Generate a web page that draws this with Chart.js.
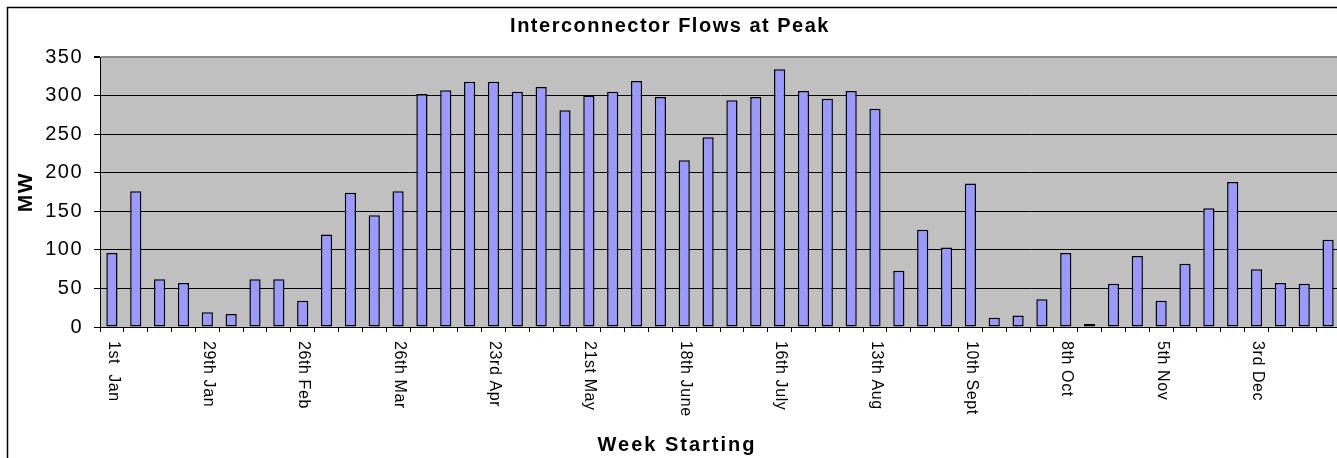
<!DOCTYPE html>
<html>
<head>
<meta charset="utf-8">
<title>Interconnector Flows at Peak</title>
<script src="https://cdn.jsdelivr.net/npm/chart.js@4.4.1/dist/chart.umd.min.js"></script>
<style>
	html, body { margin: 0; padding: 0; background: #fff; overflow: hidden; }
	#flows-wrap { width: 1396px; height: 458px; }
</style>
</head>
<body>
<div id="flows-wrap"><canvas id="flows-chart" width="1396" height="458"></canvas></div>
<script>
	'use strict';

	// Week starting dates (only every 4th one is written under the axis)
	var weekLabels = [
		'1st  Jan', '8th Jan', '15th Jan', '22nd Jan', '29th Jan',
		'5th Feb', '12th Feb', '19th Feb', '26th Feb',
		'5th Mar', '12th Mar', '19th Mar', '26th Mar',
		'2nd Apr', '9th Apr', '16th Apr', '23rd Apr', '30th Apr',
		'7th May', '14th May', '21st May', '28th May',
		'4th June', '11th June', '18th June', '25th June',
		'2nd July', '9th July', '16th July', '23rd July', '30th July',
		'6th Aug', '13th Aug', '20th Aug', '27th Aug',
		'3rd Sept', '10th Sept', '17th Sept', '24th Sept',
		'1st Oct', '8th Oct', '15th Oct', '22nd Oct', '29th Oct',
		'5th Nov', '12th Nov', '19th Nov', '26th Nov',
		'3rd Dec', '10th Dec', '17th Dec', '24th Dec'
	];

	// Interconnector flow at peak, MW
	var peakFlows = [
		96, 176, 62, 57, 19, 17, 62, 62, 34, 120,
		174, 145, 176, 302, 307, 318, 318, 305, 311, 281,
		300, 305, 319, 298, 216, 246, 294, 298, 334, 306,
		296, 306, 283, 73, 126, 103, 186, 12, 15, 36,
		96, 4, 56, 92, 34, 82, 154, 188, 75, 57,
		56, 113
	];

	var yTickValues = [0, 50, 100, 150, 200, 250, 300, 350];
	var labelEvery = 4;

	var chartTitle = 'Interconnector Flows at Peak';
	var xAxisTitle = 'Week Starting';
	var yAxisTitle = 'MW';

	var fontFamily = '"Liberation Sans", Arial, Helvetica, sans-serif';

	Chart.defaults.font.family = fontFamily;
	Chart.defaults.color = '#000';

	// White page, excel style frame and grey plot area
	var excelBackground = {
		id: 'excelBackground',
		beforeDraw: function(chart) {
			var ctx = chart.ctx;
			var area = chart.chartArea;

			ctx.save();
			ctx.fillStyle = '#fff';
			ctx.fillRect(0, 0, chart.width, chart.height);

			ctx.fillStyle = '#c0c0c0';
			ctx.fillRect(area.left, area.top, area.right - area.left, area.bottom - area.top);

			ctx.strokeStyle = '#000';
			ctx.lineWidth = 1.5;
			ctx.beginPath();
			ctx.moveTo(7.5, chart.height);
			ctx.lineTo(7.5, 7.5);
			ctx.lineTo(chart.width, 7.5);
			ctx.stroke();
			ctx.restore();

			// excel text looks a bit wider than plain arial
			ctx.letterSpacing = '1.5px';
		}
	};

	// Rotated week labels (read top to bottom) and the x axis title
	var weekAxisText = {
		id: 'weekAxisText',
		afterDraw: function(chart) {
			var ctx = chart.ctx;
			var xScale = chart.scales.x;

			ctx.save();
			ctx.fillStyle = '#000';
			ctx.font = '16px ' + fontFamily;
			ctx.letterSpacing = '0.6px';
			ctx.textAlign = 'left';
			ctx.textBaseline = 'middle';

			for (var i = 0; i < weekLabels.length; i += labelEvery) {
				var x = xScale.getPixelForValue(i);
				ctx.save();
				ctx.translate(x + 1, xScale.top + 14);
				ctx.rotate(Math.PI / 2);
				ctx.fillText(weekLabels[i], 0, 0);
				ctx.restore();
			}

			ctx.font = 'bold 20px ' + fontFamily;
			ctx.letterSpacing = '2px';
			ctx.textAlign = 'center';
			ctx.fillText(xAxisTitle, 677, 445);
			ctx.restore();
		}
	};

	var ctx = document.getElementById('flows-chart');

	var flowsChart = new Chart(ctx, {
		type: 'bar',
		data: {
			labels: weekLabels,
			datasets: [{
				label: chartTitle,
				data: peakFlows,
				backgroundColor: '#9999ff',
				borderColor: '#000',
				borderWidth: 1.5,
				borderSkipped: false,
				barPercentage: 0.47,
				categoryPercentage: 1
			}]
		},
		options: {
			responsive: false,
			animation: false,
			devicePixelRatio: 1,
			layout: {
				padding: { left: 0, right: 56, top: 0, bottom: 0 }
			},
			plugins: {
				legend: { display: false },
				tooltip: { enabled: false },
				title: {
					display: true,
					text: chartTitle,
					color: '#000',
					font: { size: 20, weight: 'bold' },
					padding: { top: 14, bottom: 19 }
				}
			},
			scales: {
				x: {
					type: 'category',
					offset: true,
					grid: {
						offset: true,
						drawOnChartArea: false,
						drawTicks: true,
						tickLength: 5,
						color: '#000',
						tickColor: '#000'
					},
					border: { display: true, color: '#000', width: 1 },
					ticks: { display: false, autoSkip: false },
					afterFit: function(scale) {
						scale.height = 131;
					}
				},
				y: {
					min: 0,
					max: 350,
					afterBuildTicks: function(scale) {
						scale.ticks = yTickValues.map(function(v) { return { value: v }; });
					},
					grid: {
						drawTicks: true,
						tickLength: 6,
						lineWidth: function(c) { return c.tick && c.tick.value === 350 ? 2 : 1; },
						color: function(c) { return c.tick && c.tick.value === 350 ? '#8c8c8c' : '#000'; },
						tickColor: '#000'
					},
					border: { display: true, color: '#000', width: 1 },
					ticks: {
						padding: 11,
						color: '#000',
						font: { size: 20 }
					},
					title: {
						display: true,
						text: yAxisTitle,
						color: '#000',
						font: { size: 21, weight: 'bold' },
						padding: { top: 14, bottom: 0 }
					},
					afterFit: function(scale) {
						scale.width = 100;
					}
				}
			}
		},
		plugins: [excelBackground, weekAxisText]
	});
</script>
</body>
</html>
